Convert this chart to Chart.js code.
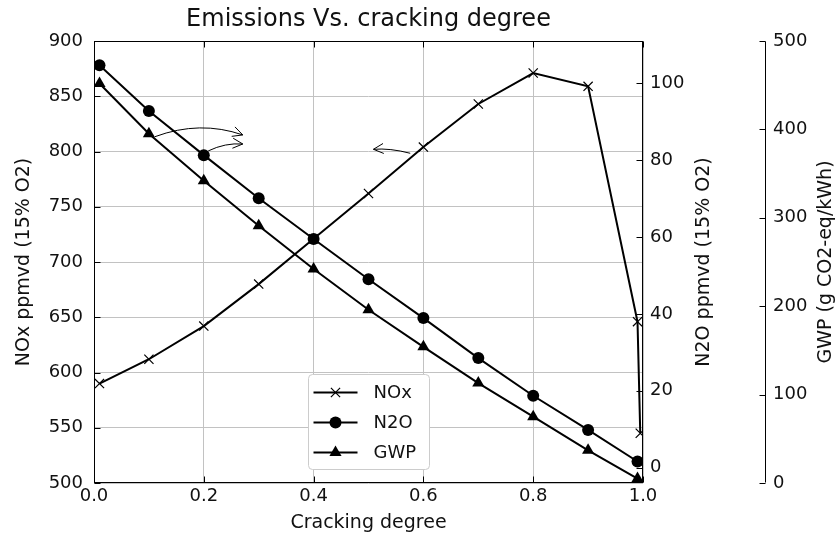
<!DOCTYPE html>
<html>
<head>
<meta charset="utf-8">
<script src="https://cdn.jsdelivr.net/npm/chart.js@4.4.0/dist/chart.umd.min.js"></script>
<style>
  html, body { margin: 0; padding: 0; background: #ffffff; }
  #wrap { width: 837px; height: 538px; }
</style>
</head>
<body>
<div id="wrap"><canvas id="c" width="837" height="538"></canvas></div>
<script>
// Cracking degree (fraction of fuel cracked) and the emissions at each point
const cracking  = [0.01, 0.1, 0.2, 0.3, 0.4, 0.5, 0.6, 0.7, 0.8, 0.9, 0.99, 0.995];
const noxPpm    = [590, 612, 642, 680, 721, 762, 804, 843, 871, 859, 646, 545];
const n2oPpm    = [104.7, 92.8, 81.3, 70.1, 59.5, 49.0, 38.9, 28.5, 18.7, 9.8, 1.6, null];
const gwpValues = [452, 395, 342, 291, 242, 196, 154, 113, 75, 37, 5, null];

const seriesNames = ['NOx', 'N2O', 'GWP'];

// Tick values for each axis
const xTicks   = [0, 0.2, 0.4, 0.6, 0.8, 1.0];
const noxTicks = [500, 550, 600, 650, 700, 750, 800, 850, 900];
const n2oTicks = [0, 20, 40, 60, 80, 100];
const gwpTicks = [0, 100, 200, 300, 400, 500];

const INK = '#111111';
const GRID = '#c2c2c2';
const FONT = '"DejaVu Sans", sans-serif';
const LABEL_SIZE = 19;

Chart.defaults.font.family = FONT;
Chart.defaults.color = INK;

function toPoints(values) {
  const pts = [];
  values.forEach((v, i) => { if (v !== null) pts.push({ x: cracking[i], y: v }); });
  return pts;
}
function fixedTicks(list) {
  return scale => { scale.ticks = list.map(v => ({ value: v })); };
}

// Spines, inward tick marks and the detached GWP spine
const framePlugin = {
  id: 'frame',
  afterDraw(chart) {
    const { ctx, chartArea: a, scales } = chart;
    const L = 6;
    ctx.save();
    ctx.strokeStyle = '#000';
    ctx.lineWidth = 1;
    const seg = (x1, y1, x2, y2) => { ctx.beginPath(); ctx.moveTo(x1, y1); ctx.lineTo(x2, y2); ctx.stroke(); };
    const l = Math.round(a.left) + 0.5, r = Math.round(a.right) - 0.5;
    const t = Math.round(a.top) + 0.5, b = Math.round(a.bottom) - 0.5;
    ctx.strokeRect(l, t, r - l, b - t);
    scales.x.ticks.forEach(tk => {
      const px = Math.round(scales.x.getPixelForValue(tk.value)) + 0.5;
      seg(px, b, px, b - L);
      seg(px, t, px, t + L);
    });
    scales.y.ticks.forEach(tk => {
      const py = Math.round(scales.y.getPixelForValue(tk.value)) + 0.5;
      seg(l, py, l + L, py);
    });
    scales.y2.ticks.forEach(tk => {
      const py = Math.round(scales.y2.getPixelForValue(tk.value)) + 0.5;
      seg(r, py, r - L, py);
    });
    const gx = Math.round(scales.y3.left) + 0.5;
    seg(gx, t, gx, b);
    scales.y3.ticks.forEach(tk => {
      const py = Math.round(scales.y3.getPixelForValue(tk.value)) + 0.5;
      seg(gx, py, gx - L, py);
    });
    // right-hand axis titles, reading bottom to top
    ctx.fillStyle = INK;
    ctx.font = LABEL_SIZE + 'px ' + FONT;
    ctx.textAlign = 'center';
    ctx.textBaseline = 'middle';
    const midY = (a.top + a.bottom) / 2;
    [['y2', 'N2O ppmvd (15% O2)'], ['y3', 'GWP (g CO2-eq/kWh)']].forEach(([id, text]) => {
      ctx.save();
      ctx.translate(scales[id].left + 61, midY);
      ctx.rotate(-Math.PI / 2);
      ctx.fillText(text, 0, 0);
      ctx.restore();
    });
    ctx.restore();
  }
};

// Curved annotation arrows pointing each group of curves to its axis
const arrowNotes = [
  { from: [0.111, 813.4], ctrl: [0.193, 828.5], to: [0.271, 815.0] },
  { from: [0.208, 800.5], ctrl: [0.239, 808.0], to: [0.271, 806.8] },
  { from: [0.576, 798.4], ctrl: [0.539, 803.2], to: [0.509, 802.0] }
];
const arrowPlugin = {
  id: 'arrows',
  afterDatasetsDraw(chart) {
    const { ctx, scales } = chart;
    const P = ([vx, vy]) => [scales.x.getPixelForValue(vx), scales.y.getPixelForValue(vy)];
    ctx.save();
    ctx.strokeStyle = '#000';
    ctx.lineWidth = 1;
    arrowNotes.forEach(n => {
      const [x0, y0] = P(n.from), [xc, yc] = P(n.ctrl), [x1, y1] = P(n.to);
      ctx.beginPath();
      ctx.moveTo(x0, y0);
      ctx.quadraticCurveTo(xc, yc, x1, y1);
      ctx.stroke();
      const ang = Math.atan2(y1 - yc, x1 - xc);
      const hl = 10, hw = 5;
      const bx = x1 - hl * Math.cos(ang), by = y1 - hl * Math.sin(ang);
      const nx = -Math.sin(ang) * hw, ny = Math.cos(ang) * hw;
      ctx.beginPath();
      ctx.moveTo(bx + nx, by + ny);
      ctx.lineTo(x1, y1);
      ctx.lineTo(bx - nx, by - ny);
      ctx.stroke();
    });
    ctx.restore();
  }
};

// Framed legend inside the plot, lower middle
function drawMarker(ctx, style, x, y) {
  ctx.beginPath();
  if (style === 'crossRot') {
    const r = 6.5 * 0.707;
    ctx.lineWidth = 1.2;
    ctx.moveTo(x - r, y - r); ctx.lineTo(x + r, y + r);
    ctx.moveTo(x - r, y + r); ctx.lineTo(x + r, y - r);
    ctx.stroke();
  } else if (style === 'circle') {
    ctx.arc(x, y, 6, 0, Math.PI * 2);
    ctx.fill();
  } else {
    const r = 7;
    ctx.moveTo(x, y - r);
    ctx.lineTo(x + r * 0.866, y + r * 0.5);
    ctx.lineTo(x - r * 0.866, y + r * 0.5);
    ctx.closePath();
    ctx.fill();
  }
}
const legendPlugin = {
  id: 'legendBox',
  afterDatasetsDraw(chart) {
    const { ctx, chartArea: a } = chart;
    const x0 = a.left + 214.5, y0 = a.bottom - 108.5, w = 121, h = 95;
    ctx.save();
    ctx.fillStyle = '#ffffff';
    ctx.strokeStyle = '#cccccc';
    ctx.lineWidth = 1;
    ctx.beginPath();
    ctx.roundRect(x0, y0, w, h, 4);
    ctx.fill();
    ctx.stroke();
    chart.data.datasets.forEach((ds, i) => {
      const ry = y0 + 18 + i * 30;
      ctx.strokeStyle = '#000';
      ctx.fillStyle = '#000';
      ctx.lineWidth = 2;
      ctx.beginPath();
      ctx.moveTo(x0 + 5, ry);
      ctx.lineTo(x0 + 49, ry);
      ctx.stroke();
      drawMarker(ctx, ds.pointStyle, x0 + 27, ry);
      ctx.fillStyle = INK;
      ctx.font = '18px ' + FONT;
      ctx.textAlign = 'left';
      ctx.textBaseline = 'middle';
      ctx.fillText(ds.label, x0 + 65, ry + 1);
    });
    ctx.restore();
  }
};

const lineStyle = { borderColor: '#000', backgroundColor: '#000', pointBackgroundColor: '#000', pointBorderColor: '#000', borderWidth: 2, tension: 0 };

new Chart(document.getElementById('c'), {
  type: 'line',
  data: {
    datasets: [
      { ...lineStyle, label: seriesNames[0], data: toPoints(noxPpm), yAxisID: 'y',
        pointStyle: 'crossRot', pointRadius: 6.5, pointBorderWidth: 1.2 },
      { ...lineStyle, label: seriesNames[1], data: toPoints(n2oPpm), yAxisID: 'y2',
        pointStyle: 'circle', pointRadius: 6, pointBorderWidth: 0 },
      { ...lineStyle, label: seriesNames[2], data: toPoints(gwpValues), yAxisID: 'y3',
        pointStyle: 'triangle', pointRadius: 7, pointBorderWidth: 0 }
    ]
  },
  options: {
    responsive: false,
    animation: false,
    events: [],
    devicePixelRatio: 1,
    layout: { padding: 0 },
    plugins: {
      legend: { display: false },
      tooltip: { enabled: false },
      title: {
        display: true, text: 'Emissions Vs. cracking degree', position: 'top', fullSize: false,
        color: INK, font: { size: 24, weight: 'normal' }, padding: { top: 5.6, bottom: 6.6 }
      }
    },
    scales: {
      x: {
        type: 'linear', position: 'bottom', min: 0, max: 1,
        afterBuildTicks: fixedTicks(xTicks),
        afterFit: s => { s.height = 55; },
        grid: { color: GRID, lineWidth: 1, drawTicks: false },
        border: { display: false },
        ticks: { padding: 3, color: INK, font: { size: 18 }, maxRotation: 0, autoSkip: false,
                 callback: v => Number(v).toFixed(1) },
        title: { display: true, text: 'Cracking degree', color: INK, font: { size: LABEL_SIZE },
                 padding: { top: 0, bottom: 3.6 } }
      },
      y: {
        type: 'linear', position: 'left', min: 500, max: 900,
        afterBuildTicks: fixedTicks(noxTicks),
        afterFit: s => { s.width = 94; },
        grid: { color: GRID, lineWidth: 1, drawTicks: false },
        border: { display: false },
        ticks: { padding: 11, color: INK, font: { size: 18 }, autoSkip: false },
        title: { display: true, text: 'NOx ppmvd (15% O2)', color: INK, font: { size: LABEL_SIZE },
                 padding: { top: 12.6, bottom: 0 } }
      },
      y2: {
        type: 'linear', position: 'right', weight: 0, min: -4, max: 111,
        afterBuildTicks: fixedTicks(n2oTicks),
        afterFit: s => { s.width = 122; },
        grid: { drawOnChartArea: false, drawTicks: false },
        border: { display: false },
        ticks: { padding: 7, color: INK, font: { size: 18 }, autoSkip: false }
      },
      y3: {
        type: 'linear', position: 'right', weight: 1, min: 0, max: 500,
        afterBuildTicks: fixedTicks(gwpTicks),
        afterFit: s => { s.width = 72; },
        grid: { drawOnChartArea: false, drawTicks: false },
        border: { display: false },
        ticks: { padding: 8, color: INK, font: { size: 18 }, autoSkip: false }
      }
    }
  },
  plugins: [framePlugin, arrowPlugin, legendPlugin]
});
</script>
</body>
</html>
